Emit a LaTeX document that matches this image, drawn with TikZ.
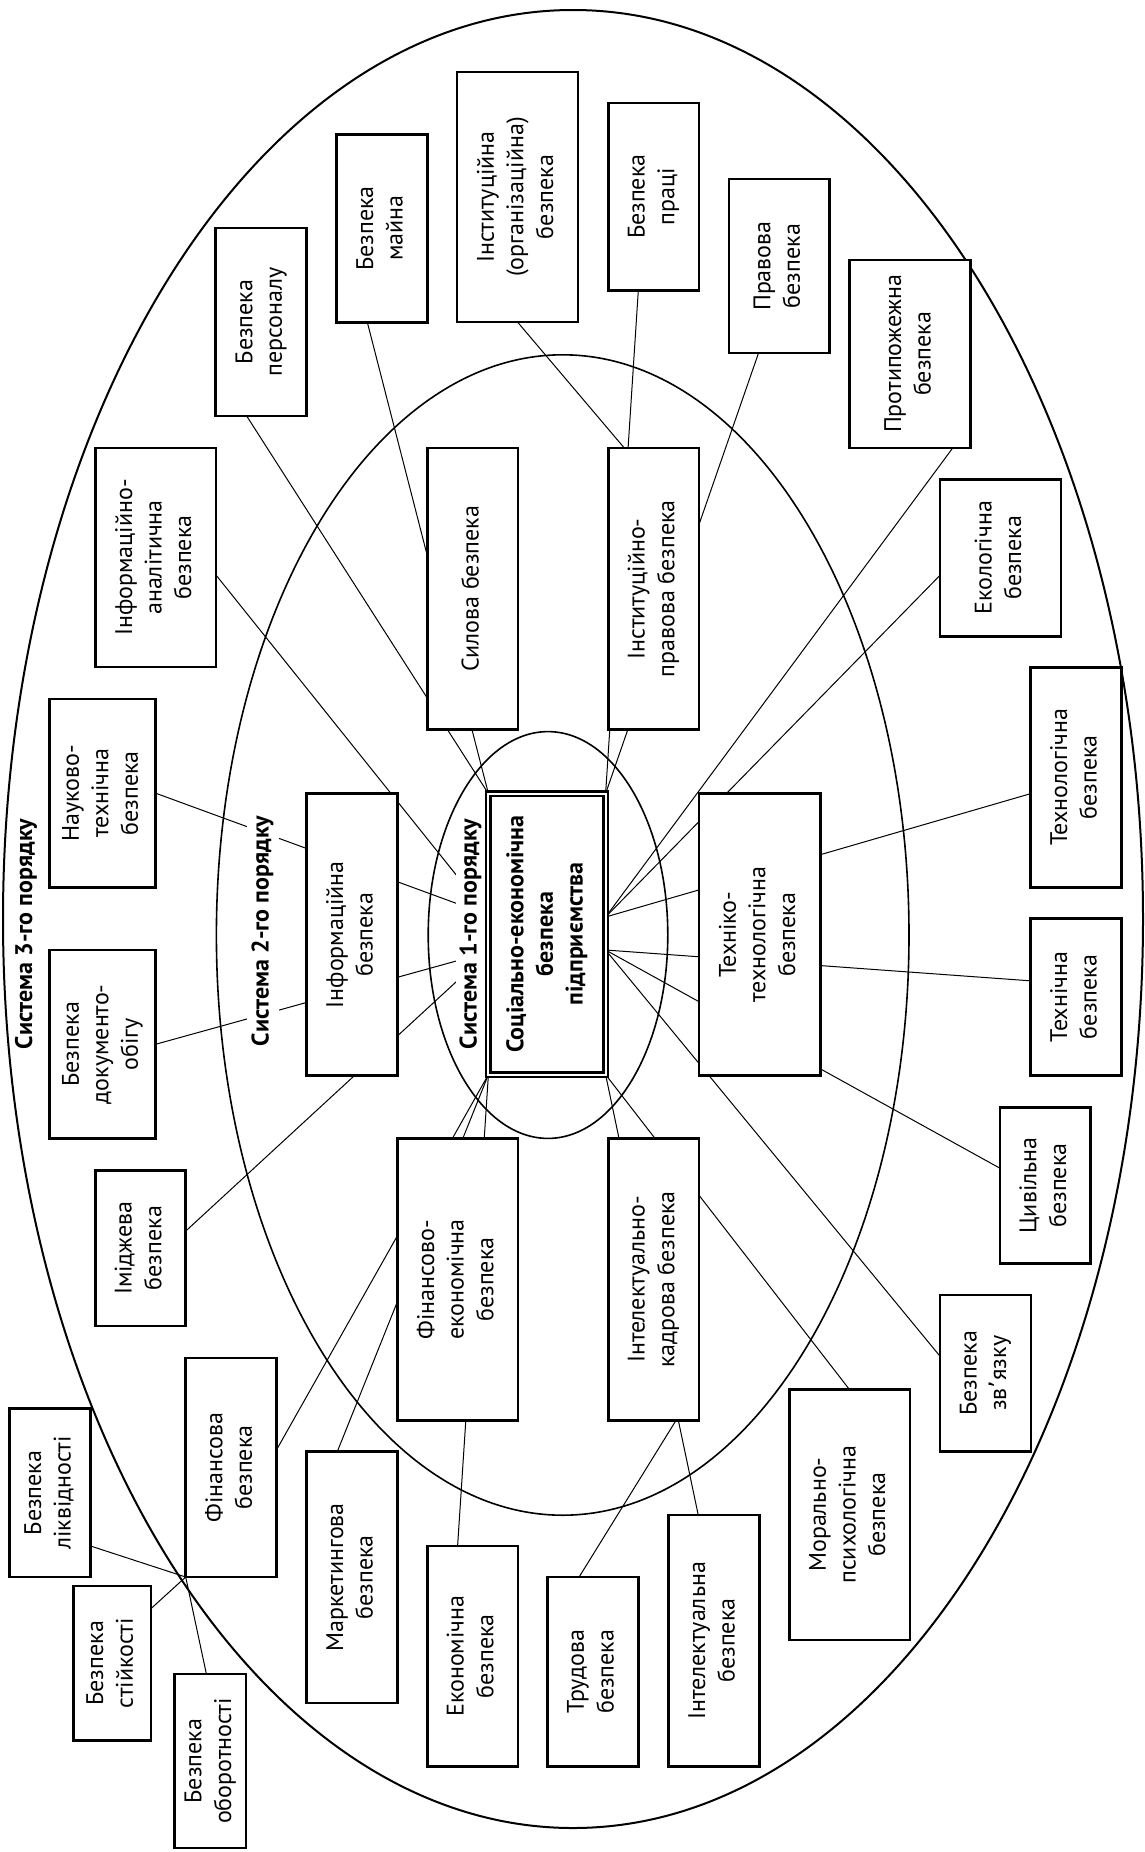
\documentclass[tikz,border=0pt]{standalone}
\usepackage{fontspec}
\setmainfont{PT Sans}
\newfontfamily\apfont{DejaVu Sans}
\usepackage{graphicx}
\usetikzlibrary{backgrounds}
\newcommand\mybox[6]{%
  \pgfmathsetmacro\mybw{(#4-#2)*0.5}%
  \pgfmathsetmacro\mybh{(#5-#3)*0.5}%
  \node[box, minimum width=\mybw pt, minimum height=\mybh pt] (#1) at ({(#2+#4)/2},{(#3+#5)/2})
    {\rotatebox{90}{\begin{tabular}{@{}c@{}}#6\end{tabular}}};}
\tikzset{
  box/.style={draw, line width=1.3pt, fill=white, inner sep=0pt, outer sep=0pt,
    font=\fontsize{12}{14.8}\selectfont},
  conn/.style={line width=0.5pt},
  ring/.style={line width=0.8pt},
  syslabel/.style={rotate=90, fill=white, inner sep=2pt, font=\fontsize{12}{14.8}\selectfont\bfseries},
}
\begin{document}
\begin{tikzpicture}[x=0.5pt, y=-0.5pt]
\useasboundingbox (0,0) rectangle (1145,1852);
% ellipses
\draw[ring, line width=1pt] (573,919) ellipse [x radius=285pt, y radius=454.5pt];
\draw[ring] (562.7,935) ellipse [x radius=173.15pt, y radius=290.1pt];
\draw[ring] (548,935) ellipse [x radius=59.9pt, y radius=101.7pt];
% boxes - outer
\mybox{pers}{215.7}{228}{306.6}{416}{Безпека\\персоналу}
\mybox{mayna}{336.6}{134.4}{427.2}{322.2}{Безпека\\майна}
\mybox{inst}{457}{72}{578}{322}{Інституційна\\(організаційна)\\безпека}
\mybox{pratsi}{608.3}{102.8}{698.9}{290.6}{Безпека\\праці}
\mybox{pravova}{728.9}{179.1}{829.5}{353.1}{Правова\\безпека}
\mybox{pozhezh}{849.5}{259.8}{970.4}{448}{Протипожежна\\безпека}
\mybox{ekol}{940}{479.2}{1061}{636.4}{Екологічна\\безпека}
\mybox{tehnol}{1030.3}{667.2}{1121.7}{887.5}{Технологічна\\безпека}
\mybox{tehnich}{1030.3}{918.3}{1121.7}{1075.7}{Технічна\\безпека}
\mybox{tsyv}{1000}{1107.3}{1090.6}{1263.6}{Цивільна\\безпека}
\mybox{zvyaz}{940}{1294.8}{1031}{1451.6}{Безпека\\зв{\apfont ’}язку}
\mybox{moral}{789.2}{1389.2}{910.1}{1640}{Морально-\\психологічна\\безпека}
\mybox{intel}{668.6}{1514.8}{759.2}{1766.3}{Інтелектуальна\\безпека}
\mybox{trud}{547.4}{1577}{638.2}{1766.3}{Трудова\\безпека}
\mybox{ekon}{427.2}{1546}{518}{1766.3}{Економічна\\безпека}
\mybox{market}{306.3}{1451.6}{397.7}{1703}{Маркетингова\\безпека}
\mybox{fin}{185.7}{1358}{276.7}{1577}{Фінансова\\безпека}
\mybox{likv}{9.2}{1408.7}{90.6}{1577}{Безпека\\ліквідності}
\mybox{stiyk}{73.2}{1585.9}{150.9}{1740.5}{Безпека\\стійкості}
\mybox{oborot}{174.6}{1674}{246}{1848}{Безпека\\оборотності}
\mybox{imidzh}{95.4}{1170.2}{185.7}{1326}{Іміджева\\безпека}
\mybox{dokum}{49.2}{950}{155.7}{1138.5}{Безпека\\документо-\\обігу}
\mybox{nauk}{49.2}{698.9}{155.7}{887.5}{Науково-\\технічна\\безпека}
\mybox{infan}{95.4}{448}{216}{667}{Інформаційно-\\аналітична\\безпека}
% boxes - middle
\mybox{sylova}{427.2}{448}{518}{729.7}{Силова безпека}
\mybox{instprav}{608.3}{448}{698.9}{729.7}{Інституційно-\\правова безпека}
\mybox{info}{306.3}{793.7}{397.7}{1075.7}{Інформаційна\\безпека}
\mybox{tehno}{698.9}{793.7}{820.2}{1075.7}{Техніко-\\технологічна\\безпека}
\mybox{finek}{397.7}{1138.5}{517.9}{1420.4}{Фінансово-\\економічна\\безпека}
\mybox{intkadr}{608.3}{1138.5}{698.9}{1420.4}{Інтелектуально-\\кадрова безпека}
% system labels
\node[syslabel] (sys3) at (26,934) {Система 3-го порядку};
\node[syslabel, inner sep=2.5pt] (sys2) at (262.6,931) {Система 2-го порядку};
\node[syslabel, inner sep=1.5pt] (sys1) at (470.5,934) {Система 1-го порядку};
% central node
\node[draw, double, line width=1.4pt, double distance=1pt, fill=white,
  minimum width=58.6pt, minimum height=140.5pt, inner sep=0pt, outer sep=0pt,
  font=\fontsize{12}{14.8}\selectfont\bfseries] (C) at (547,934.1)
  {\rotatebox{90}{\begin{tabular}{@{}c@{}}Соціально-економічна\\безпека\\підприємства\end{tabular}}};
\coordinate (P1) at ([yshift=8.55pt]C.east);
\coordinate (P2) at ([yshift=-7.95pt]C.east);
\coordinate (Q1) at ([yshift=9.5pt]C.west);
\coordinate (Q2) at ([yshift=-9pt]C.west);
% connectors (behind boxes)
\begin{pgfonlayer}{background}
\draw[conn] ([xshift=15.5pt]pers.south west) -- (C.north west);
\draw[conn] ([xshift=15.35pt]mayna.south west) -- (C.north west);
\draw[conn] (inst.south) -- ([xshift=8pt]instprav.north west);
\draw[conn] ([xshift=15pt]pratsi.south west) -- (C.north east);
\draw[conn] ([xshift=14.8pt]pravova.south west) -- (C.north east);
\draw[conn] ([xshift=-8.85pt]pozhezh.south east) -- (P1);
\draw[conn] ([yshift=-8.75pt]ekol.west) -- (P1);
\draw[conn] ([yshift=-8.2pt]tehnol.west) -- (P1);
\draw[conn] ([yshift=8.1pt]tehnich.west) -- (P2);
\draw[conn] ([yshift=8.6pt]tsyv.west) -- (P2);
\draw[conn] ([yshift=8.5pt]zvyaz.west) -- (P2);
\draw[conn] ([xshift=30pt]moral.north west) -- (C.south east);
\draw[conn] ([xshift=14.8pt]intel.north west) -- (C.south east);
\draw[conn] ([xshift=15.85pt]trud.north west) -- ([xshift=33.85pt]intkadr.south west);
\draw[conn] ([xshift=15.2pt]ekon.north west) -- (C.south west);
\draw[conn] ([xshift=15.5pt]market.north west) -- (C.south west);
\draw[conn] ([yshift=9pt]fin.east) -- (C.south west);
\draw[conn] ([yshift=15.5pt]likv.south east) -- (fin.south west);
\draw[conn] ([yshift=-11.4pt]stiyk.north east) -- (fin.south west);
\draw[conn] ([xshift=15.9pt]oborot.north west) -- (fin.south west);
\draw[conn] ([yshift=8.5pt]imidzh.east) -- (Q2);
\draw[conn] (dokum.east) -- (Q2);
\draw[conn] (nauk.east) -- (Q1);
\draw[conn] ([yshift=-8.75pt]infan.east) -- (Q1);
\end{pgfonlayer}
\end{tikzpicture}
\end{document}
